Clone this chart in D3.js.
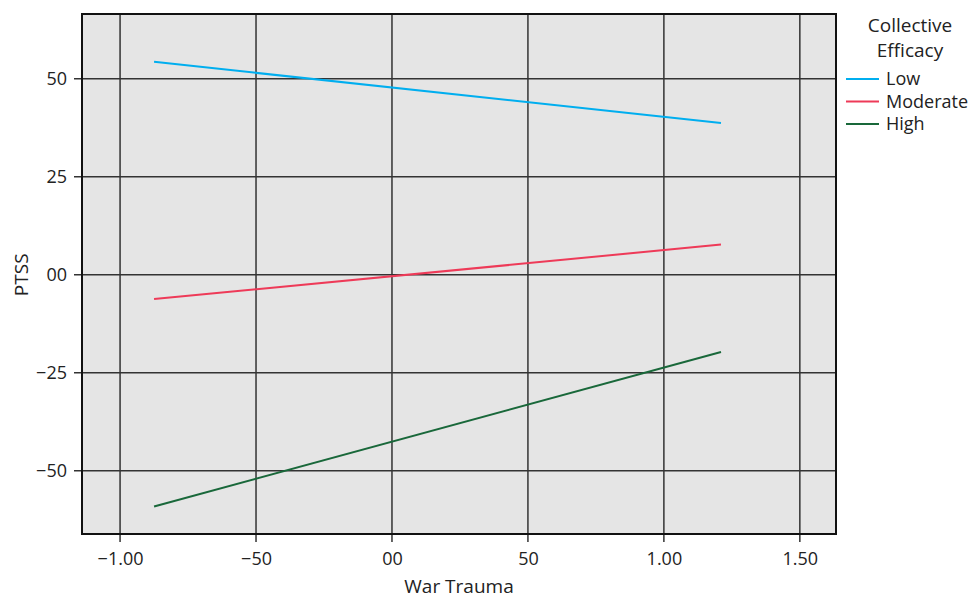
<!DOCTYPE html>
<html>
<head>
<meta charset="utf-8">
<script src="https://cdn.jsdelivr.net/npm/d3@7"></script>
<style>
body { margin: 0; background: #fff; }
text { font-family: "Open Sans", "Noto Sans", sans-serif; fill: #222; }
</style>
</head>
<body>
<svg id="chart" width="978" height="598"></svg>
<script>
// series endpoints
var trauma = [-0.875, 1.21];
var lowVals = [0.543, 0.387];
var modVals = [-0.062, 0.077];
var highVals = [-0.591, -0.197];
var seriesNames = ['Low', 'Moderate', 'High'];
var seriesColors = ['#00aeef', '#ee3a58', '#19683a'];
var xTicks = [-1, -0.5, 0, 0.5, 1, 1.5];
var xTickLabels = ['\u22121.00', '\u221250', '00', '50', '1.00', '1.50'];
var yTicks = [0.5, 0.25, 0, -0.25, -0.5];
var yTickLabels = ['50', '25', '00', '\u221225', '\u221250'];

var svg = d3.select('#chart');
var plotL = 82, plotT = 14, plotR = 836, plotB = 534;

var x = d3.scaleLinear().domain([-1.14, 1.633]).range([plotL, plotR]);
var y = d3.scaleLinear().domain([-0.661, 0.665]).range([plotB, plotT]);

svg.append('rect').attr('x', plotL).attr('y', plotT)
    .attr('width', plotR - plotL).attr('height', plotB - plotT)
    .attr('fill', '#e5e5e5');

// grid
var grid = svg.append('g');
grid.selectAll('line.v').data(xTicks).enter().append('line')
    .attr('x1', function (d) { return x(d); }).attr('x2', function (d) { return x(d); })
    .attr('y1', plotT).attr('y2', plotB + 8)
    .attr('stroke', '#333').attr('stroke-width', 1.5);
grid.selectAll('line.h').data(yTicks).enter().append('line')
    .attr('y1', function (d) { return y(d); }).attr('y2', function (d) { return y(d); })
    .attr('x1', plotL - 8).attr('x2', plotR)
    .attr('stroke', '#333').attr('stroke-width', 1.5);

// axes labels
var xAxis = d3.axisBottom(x).tickValues(xTicks).tickSize(0).tickPadding(18)
    .tickFormat(function (d, i) { return xTickLabels[i]; });
var gx = svg.append('g').attr('transform', 'translate(0,' + plotB + ')').call(xAxis);
gx.select('.domain').remove();
gx.selectAll('text').attr('font-size', 18).style('font-family', '"Open Sans", "Noto Sans", sans-serif').attr('fill', '#222');

var yAxis = d3.axisLeft(y).tickValues(yTicks).tickSize(0).tickPadding(15)
    .tickFormat(function (d, i) { return yTickLabels[i]; });
var gy = svg.append('g').attr('transform', 'translate(' + plotL + ',0)').call(yAxis);
gy.select('.domain').remove();
gy.selectAll('text').attr('font-size', 18).style('font-family', '"Open Sans", "Noto Sans", sans-serif').attr('fill', '#222');

// series
var series = [lowVals, modVals, highVals];
var line = d3.line()
    .x(function (d, i) { return x(trauma[i]); })
    .y(function (d) { return y(d); });
svg.append('g').selectAll('path').data(series).enter().append('path')
    .attr('d', line)
    .attr('fill', 'none')
    .attr('stroke', function (d, i) { return seriesColors[i]; })
    .attr('stroke-width', 2);

// frame
svg.append('rect').attr('x', plotL).attr('y', plotT)
    .attr('width', plotR - plotL).attr('height', plotB - plotT)
    .attr('fill', 'none').attr('stroke', '#111').attr('stroke-width', 2);

// axis titles
svg.append('text').attr('x', (plotL + plotR) / 2).attr('y', 593)
    .attr('text-anchor', 'middle').attr('font-size', 19).text('War Trauma');
svg.append('text').attr('transform', 'translate(28,' + y(0) + ') rotate(-90)')
    .attr('text-anchor', 'middle').attr('font-size', 19).text('PTSS');

// legend
var lg = svg.append('g');
lg.append('text').attr('x', 910).attr('y', 32).attr('text-anchor', 'middle')
    .attr('font-size', 19).text('Collective');
lg.append('text').attr('x', 910).attr('y', 57).attr('text-anchor', 'middle')
    .attr('font-size', 19).text('Efficacy');
var items = lg.selectAll('g.item').data(seriesNames).enter().append('g')
    .attr('transform', function (d, i) { return 'translate(0,' + (79 + i * 22.5) + ')'; });
items.append('line').attr('x1', 846).attr('x2', 879).attr('y1', 0).attr('y2', 0)
    .attr('stroke', function (d, i) { return seriesColors[i]; }).attr('stroke-width', 2);
items.append('text').attr('x', 886).attr('y', 6).attr('font-size', 18)
    .text(function (d) { return d; });
</script>
</body>
</html>
